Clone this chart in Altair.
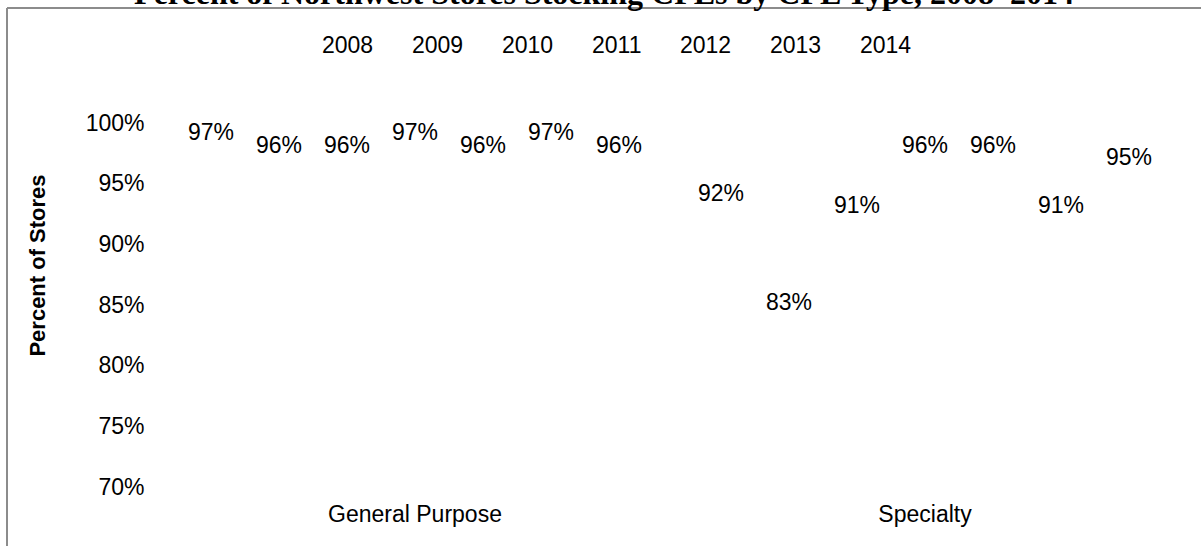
import altair as alt
import pandas as pd

title_text = "Percent of Northwest Stores Stocking CFLs by CFL Type, 2008\u20132014"
groups = ["General Purpose", "Specialty"]
years = ["2008", "2009", "2010", "2011", "2012", "2013", "2014"]
general_purpose = [0.97, 0.96, 0.96, 0.97, 0.96, 0.97, 0.96]
specialty = [0.92, 0.83, 0.91, 0.96, 0.96, 0.91, 0.95]
y_ticks = [0.70, 0.75, 0.80, 0.85, 0.90, 0.95, 1.00]

rows = []
for g, vals in zip(groups, [general_purpose, specialty]):
    for yr, v in zip(years, vals):
        rows.append({"type": g, "year": yr, "pct": v})
df = pd.DataFrame(rows)

W, H = 1020, 364
PL, PT = 160, 123
FONT = "Liberation Sans"

x_enc = alt.X(
    "type:N", sort=groups,
    scale=alt.Scale(paddingInner=0, paddingOuter=0),
    axis=alt.Axis(title=None, labelAngle=0, ticks=False, domain=False,
                  labelFontSize=23, labelPadding=16, labelColor="black",
                  labelFont=FONT),
)
xo_enc = alt.XOffset("year:N", sort=years,
                     scale=alt.Scale(paddingInner=0, paddingOuter=0.25))
y_enc = alt.Y(
    "pct:Q",
    scale=alt.Scale(domain=[0.70, 1.00], zero=False, nice=False),
    axis=alt.Axis(values=y_ticks, format=".0%", ticks=False, domain=False,
                  grid=False, labelFontSize=23, labelPadding=16,
                  labelColor="black", labelFont=FONT,
                  title="Percent of Stores", titleFont=FONT, titleFontSize=22,
                  titleFontWeight="bold", titleColor="black", titleAngle=270,
                  titleX=37 - PL, titleY=265 - PT, titleAlign="center",
                  titleBaseline="middle"),
)

base = alt.Chart(df)

bars = base.mark_bar(clip=True, strokeWidth=0).encode(
    x=x_enc, xOffset=xo_enc, y=y_enc,
    color=alt.Color(
        "year:N", sort=years,
        scale=alt.Scale(range=["#ffffff"] * 7),
        legend=alt.Legend(title=None, orient="none", direction="horizontal",
                          columns=7, legendX=295 - PL, legendY=34 - PT,
                          labelFontSize=23, labelFont=FONT, labelColor="black",
                          symbolSize=100, symbolStrokeWidth=0,
                          labelOffset=4, columnPadding=11, symbolType="square"),
    ),
)

labels = base.mark_text(fontSize=23, font=FONT, color="black", dy=-26,
                        baseline="middle").encode(
    x=alt.X("type:N", sort=groups), xOffset=alt.XOffset("year:N", sort=years),
    y=alt.Y("pct:Q"),
    text=alt.Text("pct:Q", format=".0%"),
)

border_top = base.mark_rule(color="#8c8c8c", strokeWidth=2).encode(
    x=alt.value(7 - PL), x2=alt.value(1201 - PL + 5), y=alt.value(8 - PT)
)
border_left = base.mark_rule(color="#8c8c8c", strokeWidth=2).encode(
    x=alt.value(7 - PL), y=alt.value(8 - PT), y2=alt.value(546 - PT + 5)
)

chart = alt.layer(bars, labels, border_top, border_left).properties(
    width=W, height=H,
    background="white",
    autosize=alt.AutoSizeParams(type="none"),
    padding={"left": PL, "top": PT, "right": 1201 - PL - W, "bottom": 546 - PT - H},
    title=alt.TitleParams(text=title_text, font="Liberation Serif", fontSize=32,
                          fontWeight="bold", color="black", anchor="middle",
                          dx=604 - (PL + W / 2), dy=31, offset=2,
                          baseline="alphabetic"),
).configure_view(strokeWidth=0, stroke="transparent")

chart.save("out.html", embed_options={"renderer": "svg", "actions": False})
